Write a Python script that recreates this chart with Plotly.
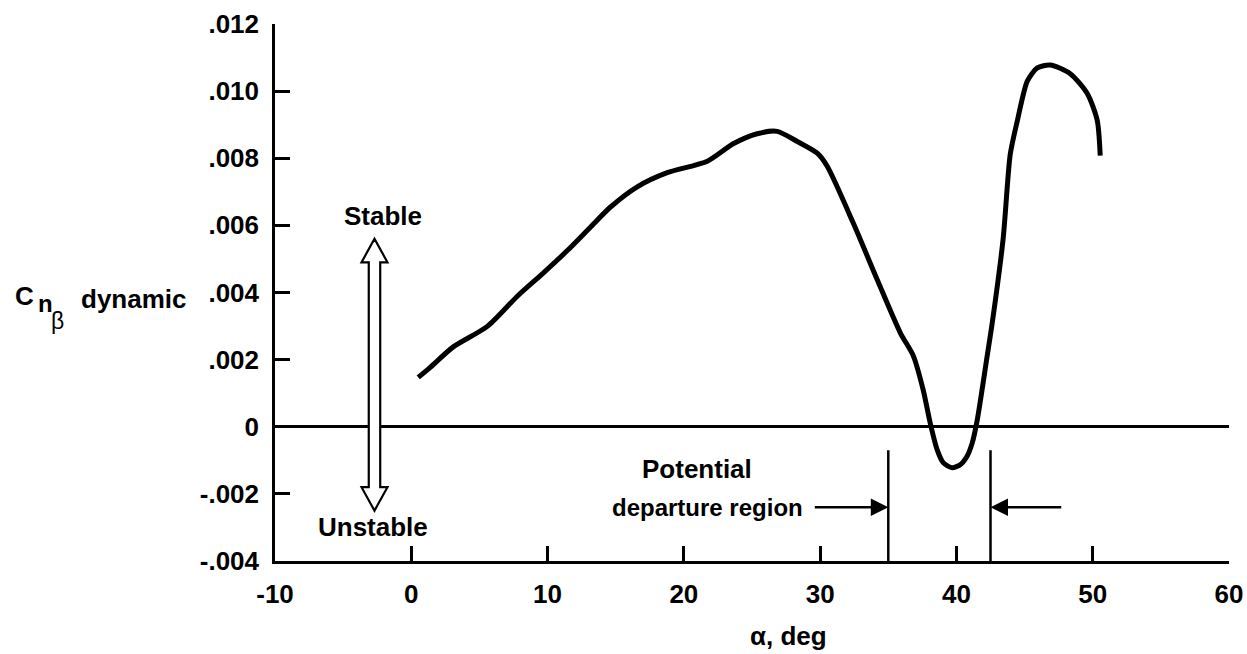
import plotly.graph_objects as go

# ---- data ----
alpha_deg = [0.51, 1.39, 3.08, 5.58, 7.78, 9.68, 11.45, 13.13, 14.6, 16.58, 18.78, 21.72,
             23.62, 25.38, 26.85, 28.32, 29.79, 30.52, 32.43, 34.19, 35.88, 36.83, 37.56,
             38.07, 38.59, 39.03, 39.69, 40.28, 40.79, 41.16, 41.53, 42.26, 42.63, 43.43,
             43.95, 44.46, 45.2, 45.93, 46.88, 48.35, 49.6, 50.33, 50.55]
cn_beta_dyn = [0.00147, 0.00177, 0.00238, 0.00299, 0.00389, 0.00458, 0.00525, 0.00594,
               0.00654, 0.00715, 0.00757, 0.00791, 0.00843, 0.00873, 0.0088, 0.0085,
               0.00815, 0.00776, 0.00607, 0.00438, 0.0028, 0.00212, 0.0011, 0.00012,
               -0.00069, -0.00107, -0.00122, -0.00113, -0.00087, -0.00048, 0.00021,
               0.00212, 0.0031, 0.00561, 0.00812, 0.0091, 0.0103, 0.01069, 0.01078,
               0.01052, 0.00993, 0.00913, 0.00808]

x_tick_vals = [-10, 0, 10, 20, 30, 40, 50, 60]
x_tick_text = ["-10", "0", "10", "20", "30", "40", "50", "60"]
y_tick_vals = [-0.004, -0.002, 0, 0.002, 0.004, 0.006, 0.008, 0.010, 0.012]
y_tick_text = ["-.004", "-.002", "0", ".002", ".004", ".006", ".008", ".010", ".012"]

x_range = [-10, 60]
y_range = [-0.004, 0.012]

# departure region boundaries (deg) and marker heights
region_bounds = [35.0, 42.5]
region_line_top = -0.0007
region_arrow_y = -0.0024
region_arrow_tails = [29.5, 47.8]

# stable / unstable arrow
stab_x = -2.7
stab_top = 0.0056
stab_bottom = -0.0025

FONT = "Liberation Sans"
BLACK = "black"

fig = go.Figure()

fig.add_trace(go.Scatter(
    x=alpha_deg, y=cn_beta_dyn, mode="lines",
    line=dict(color=BLACK, width=5, shape="spline", smoothing=0.7),
    showlegend=False, hoverinfo="skip"))

# vertical region boundary lines
for xb in region_bounds:
    fig.add_trace(go.Scatter(
        x=[xb, xb], y=[y_range[0], region_line_top], mode="lines",
        line=dict(color=BLACK, width=2.5), showlegend=False, hoverinfo="skip"))

# hollow double-headed arrow (Stable / Unstable)
hw_head = 0.95
hw_shaft = 0.42
head_len = 0.0007
path = (f"M {stab_x},{stab_top} "
        f"L {stab_x + hw_head},{stab_top - head_len} "
        f"L {stab_x + hw_shaft},{stab_top - head_len} "
        f"L {stab_x + hw_shaft},{stab_bottom + head_len} "
        f"L {stab_x + hw_head},{stab_bottom + head_len} "
        f"L {stab_x},{stab_bottom} "
        f"L {stab_x - hw_head},{stab_bottom + head_len} "
        f"L {stab_x - hw_shaft},{stab_bottom + head_len} "
        f"L {stab_x - hw_shaft},{stab_top - head_len} "
        f"L {stab_x - hw_head},{stab_top - head_len} Z")
fig.add_shape(type="path", path=path, xref="x", yref="y",
              line=dict(color=BLACK, width=2.2), fillcolor="white", layer="above")

font_main = dict(family=FONT, size=26, color=BLACK, weight="bold")
font_small = dict(family=FONT, size=24, color=BLACK, weight="bold")

annotations = []
annotations.append(dict(x=stab_x + 0.6, y=0.00627, xref="x", yref="y", text="Stable",
                        showarrow=False, font=font_main))
annotations.append(dict(x=stab_x - 0.1, y=-0.0030, xref="x", yref="y", text="Unstable",
                        showarrow=False, font=font_main))
annotations.append(dict(x=20.98, y=-0.00125, xref="x", yref="y", text="Potential",
                        showarrow=False, font=font_main))
annotations.append(dict(x=21.7, y=-0.0024, xref="x", yref="y", text="departure region",
                        showarrow=False, font=font_small))
for xb, xt in zip(region_bounds, region_arrow_tails):
    annotations.append(dict(x=xb, y=region_arrow_y, ax=xt, ay=region_arrow_y,
                            xref="x", yref="y", axref="x", ayref="y", text="",
                            showarrow=True, arrowhead=2, arrowsize=1.4, arrowwidth=2.5,
                            arrowcolor=BLACK, standoff=0, startstandoff=0))


def px_x(p):
    return (p - 275) / 954


def px_y(p):
    return (561 - p) / 537


# y-axis title, C_n_beta dynamic
annotations.append(dict(x=px_x(13), y=px_y(296), xref="paper", yref="paper", text="C",
                        xanchor="left", showarrow=False,
                        font=dict(family=FONT, size=26, color=BLACK, weight="bold")))
annotations.append(dict(x=px_x(36), y=px_y(303), xref="paper", yref="paper", text="n",
                        xanchor="left", showarrow=False,
                        font=dict(family=FONT, size=24, color=BLACK, weight="bold")))
annotations.append(dict(x=px_x(49), y=px_y(321), xref="paper", yref="paper", text="β",
                        xanchor="left", showarrow=False,
                        font=dict(family=FONT, size=23, color=BLACK)))
annotations.append(dict(x=px_x(79), y=px_y(299), xref="paper", yref="paper", text="dynamic",
                        xanchor="left", showarrow=False, font=font_main))
# x-axis title
annotations.append(dict(x=px_x(788), y=px_y(636), xref="paper", yref="paper", text="α, deg",
                        showarrow=False, yanchor="middle",
                        font=dict(family=FONT, size=26, color=BLACK, weight="bold")))

fig.update_layout(
    width=1247, height=654,
    margin=dict(l=275, r=18, t=24, b=93),
    paper_bgcolor="white", plot_bgcolor="white",
    showlegend=False,
    annotations=annotations,
    xaxis=dict(range=x_range, showline=True, linecolor=BLACK, linewidth=2.5,
               ticks="inside", ticklen=15, tickwidth=2.5, tickcolor=BLACK,
               tickvals=x_tick_vals, ticktext=x_tick_text,
               tickfont=font_main, showgrid=False, zeroline=False,
               ticklabelstandoff=8, automargin=False),
    yaxis=dict(range=y_range, showline=True, linecolor=BLACK, linewidth=2.5,
               ticks="inside", ticklen=15, tickwidth=2.5, tickcolor=BLACK,
               tickvals=y_tick_vals, ticktext=y_tick_text,
               tickfont=font_main, showgrid=False,
               zeroline=True, zerolinecolor=BLACK, zerolinewidth=2.5,
               ticklabelstandoff=8, automargin=False),
)

# remove the default page margin so the figure sits at the window's top-left corner
fig.write_html("out.html",
               config={"displayModeBar": False},
               post_script="document.body.style.margin='0';"
                           "document.body.style.overflow='hidden';")
